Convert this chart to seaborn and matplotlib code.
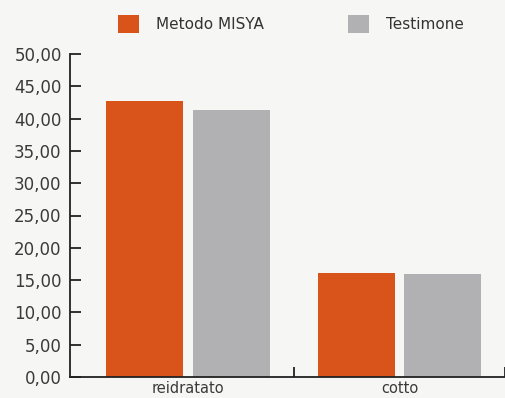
import matplotlib
matplotlib.use("Agg")
import matplotlib.pyplot as plt
from matplotlib.ticker import FixedLocator, FuncFormatter
import seaborn as sns
import pandas as pd

categories = ["reidratato", "cotto"]
series = ["Metodo MISYA", "Testimone"]
misya = [42.7, 16.1]
testimone = [41.3, 16.0]
colors = ["#d9541a", "#b1b1b3"]

df = pd.DataFrame({
    "categoria": categories * 2,
    "serie": [series[0]] * 2 + [series[1]] * 2,
    "valore": misya + testimone,
})

sns.set_theme(style="white")
plt.rcParams["font.family"] = ["DejaVu Sans"]
bg = "#f6f6f5"

fig = plt.figure(figsize=(5.06, 3.98), dpi=100, facecolor=bg)
ax = fig.add_axes([70 / 506, 21 / 398, 435 / 506, 323 / 398], facecolor=bg)

sns.barplot(data=df, x="categoria", y="valore", hue="serie", order=categories,
            hue_order=series, palette=colors, width=0.82, gap=0.11,
            saturation=1, linewidth=0, ax=ax)

ax.set_xlim(-0.56, 1.5)
ax.set_ylim(0, 50)
ax.set_xlabel("")
ax.set_ylabel("")

for side in ("top", "right"):
    ax.spines[side].set_visible(False)
for side in ("left", "bottom"):
    ax.spines[side].set_color("#222222")
    ax.spines[side].set_linewidth(1.3)

# y axis: inward ticks, comma decimal labels
ax.yaxis.set_major_locator(FixedLocator([0, 5, 10, 15, 20, 25, 30, 35, 40, 45, 50]))
ax.yaxis.set_major_formatter(FuncFormatter(lambda v, p: f"{v:.2f}".replace(".", ",")))
ax.tick_params(axis="y", direction="in", length=8, width=1.3, color="#222222",
               labelsize=12, labelcolor="#3a3a3a", pad=6, left=True)

# x axis: ticks at category boundaries, labels at category centres
ax.xaxis.set_major_locator(FixedLocator([0.5, 1.5]))
ax.xaxis.set_major_formatter(FuncFormatter(lambda v, p: ""))
ax.xaxis.set_minor_locator(FixedLocator([0, 1]))
ax.xaxis.set_minor_formatter(FuncFormatter(lambda v, p: categories[int(round(v))]))
ax.tick_params(axis="x", which="major", direction="in", length=7, width=1.3,
               color="#222222", bottom=True)
ax.tick_params(axis="x", which="minor", length=0, labelsize=10.5,
               labelcolor="#3a3a3a", pad=3, bottom=True)

sns.move_legend(ax, "center", bbox_to_anchor=(0.575, 0.94),
                bbox_transform=fig.transFigure, ncol=2, frameon=False,
                title=None, fontsize=11, handlelength=1.4, handleheight=1.4,
                handletextpad=1.1, columnspacing=5.5)
for t in ax.get_legend().get_texts():
    t.set_color("#333333")
    t.set_family(["Liberation Sans Narrow", "DejaVu Sans"])

fig.savefig("out.png", dpi=100, facecolor=bg)
